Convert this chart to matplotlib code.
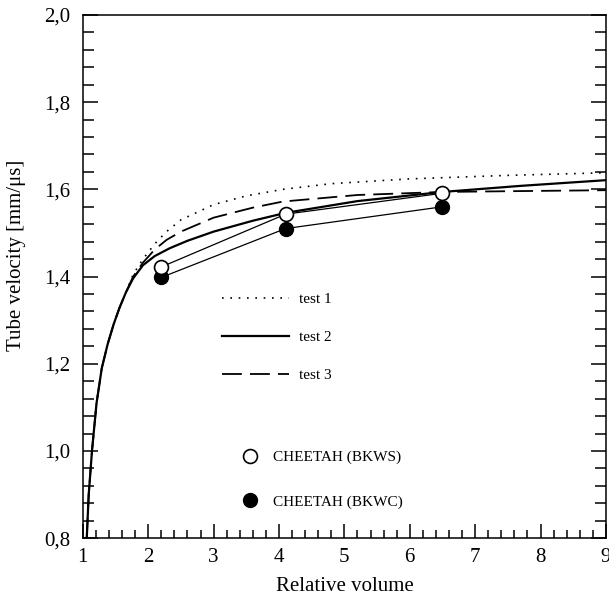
import numpy as np
import matplotlib.pyplot as plt
from matplotlib.ticker import MultipleLocator, FormatStrFormatter
from matplotlib.lines import Line2D

plt.rcParams['font.family'] = ['Liberation Serif', 'DejaVu Serif']

# test curves
x_test1 = [1.06, 1.09, 1.14, 1.21, 1.29, 1.38, 1.47, 1.56, 1.66, 1.77, 1.92, 2.1, 2.28, 2.5, 3.0, 3.5, 4.06, 4.8, 6.0, 7.5, 9.0]
y_test1 = [0.80, 0.90, 1.00, 1.11, 1.19, 1.245, 1.29, 1.328, 1.364, 1.405, 1.44, 1.475, 1.503, 1.53, 1.565, 1.585, 1.600, 1.613, 1.624, 1.632, 1.638]

x_test2 = [1.06, 1.09, 1.14, 1.21, 1.29, 1.38, 1.47, 1.56, 1.66, 1.77, 1.92, 2.1, 2.33, 2.6, 3.0, 3.6, 4.1, 5.2, 6.5, 7.7, 9.0]
y_test2 = [0.80, 0.90, 1.00, 1.11, 1.19, 1.245, 1.29, 1.328, 1.364, 1.396, 1.426, 1.447, 1.465, 1.482, 1.503, 1.528, 1.546, 1.573, 1.594, 1.608, 1.621]

x_test3 = [1.06, 1.09, 1.14, 1.21, 1.29, 1.38, 1.47, 1.56, 1.66, 1.77, 1.92, 2.1, 2.28, 2.5, 3.0, 3.6, 4.06, 5.2, 6.5, 7.7, 9.0]
y_test3 = [0.80, 0.90, 1.00, 1.11, 1.19, 1.245, 1.29, 1.328, 1.364, 1.40, 1.432, 1.462, 1.484, 1.503, 1.535, 1.558, 1.572, 1.587, 1.594, 1.596, 1.598]

# CHEETAH points
x_cheetah = [2.2, 4.1, 6.5]
y_bkws = [1.422, 1.543, 1.591]
y_bkwc = [1.398, 1.510, 1.560]

fig = plt.figure(figsize=(6.09, 5.96), dpi=100)
ax = fig.add_axes([0.136, 0.097, 0.859, 0.878])

ax.plot(x_test1, y_test1, color='black', lw=1.2, linestyle=(0, (1, 4)))
ax.plot(x_test2, y_test2, color='black', lw=1.6, linestyle='-')
ax.plot(x_test3, y_test3, color='black', lw=1.3, linestyle=(0, (11, 4.5)))

ax.plot(x_cheetah, y_bkwc, color='black', lw=0.9, marker='o', ms=10,
        mfc='black', mec='black', zorder=2)
ax.plot(x_cheetah, y_bkws, color='black', lw=0.9, marker='o', ms=10,
        mfc='white', mec='black', mew=1.2, zorder=3)

ax.set_xlim(1, 9)
ax.set_ylim(0.8, 2.0)
ax.xaxis.set_major_locator(MultipleLocator(1))
ax.xaxis.set_minor_locator(MultipleLocator(0.2))
ax.yaxis.set_major_locator(MultipleLocator(0.2))
ax.yaxis.set_minor_locator(MultipleLocator(0.04))
ax.xaxis.set_major_formatter(FormatStrFormatter('%d'))
ax.yaxis.set_major_formatter(plt.FuncFormatter(lambda v, p: ('%.1f' % v).replace('.', ',')))

ax.tick_params(axis='x', which='both', direction='in', top=False, labelsize=15, pad=7)
ax.tick_params(axis='x', which='major', length=10, width=1.1)
ax.tick_params(axis='x', which='minor', length=6, width=1.1)
ax.tick_params(axis='y', which='both', direction='in', left=True, right=True, labelsize=15, pad=9)
ax.tick_params(axis='y', which='major', length=11, width=1.1)
ax.tick_params(axis='y', which='minor', length=8, width=1.1)
for s in ax.spines.values():
    s.set_linewidth(1.1)

ax.set_xlabel('Relative volume', fontsize=15, labelpad=7)
ax.set_ylabel('Tube velocity [mm/\u03bcs]', fontsize=15)
ax.yaxis.set_label_coords(-0.108, 0.54)

h_lines = [Line2D([], [], color='black', lw=1.2, linestyle=(0, (1, 4))),
           Line2D([], [], color='black', lw=1.6),
           Line2D([], [], color='black', lw=1.3, linestyle=(0, (11, 4.5)))]
leg1 = ax.legend(h_lines, ['test 1', 'test 2', 'test 3'], loc='upper left',
                 bbox_to_anchor=(0.266, 0.47), frameon=False, fontsize=11,
                 handlelength=4.4, handletextpad=0.65, labelspacing=1.6,
                 borderpad=0, borderaxespad=0)
ax.add_artist(leg1)

h_marks = [Line2D([], [], linestyle='none', marker='o', ms=10, mfc='white', mec='black', mew=1.2),
           Line2D([], [], linestyle='none', marker='o', ms=10, mfc='black', mec='black')]
ax.legend(h_marks, ['CHEETAH (BKWS)', 'CHEETAH (BKWC)'], loc='upper left',
          bbox_to_anchor=(0.305, 0.168), frameon=False, fontsize=11,
          handlelength=1.0, handletextpad=1.0, labelspacing=2.0,
          borderpad=0, borderaxespad=0)

fig.savefig('out.png', dpi=100)
